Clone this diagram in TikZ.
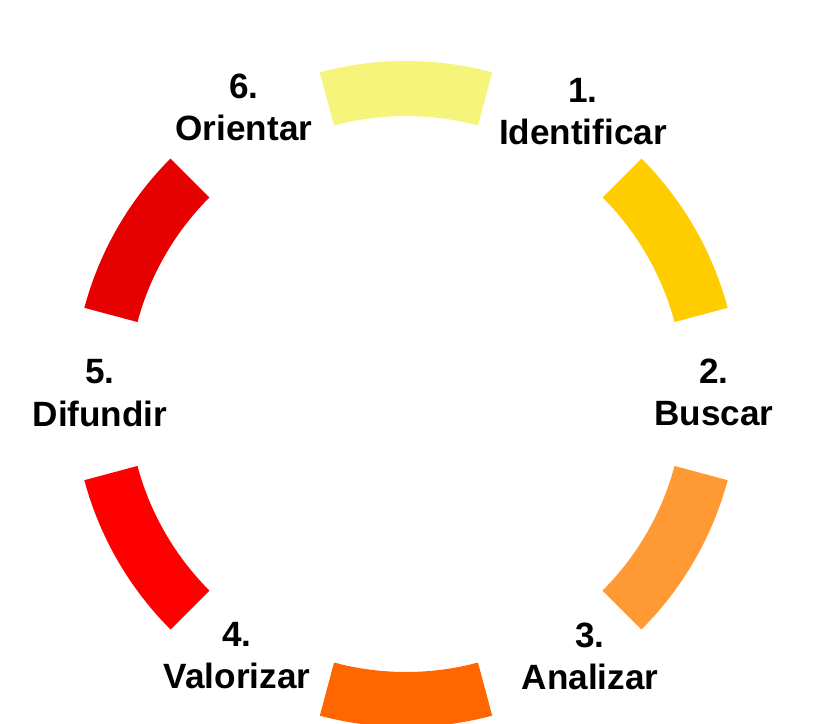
\documentclass[tikz,border=0pt]{standalone}
\usepackage{fontspec}
\setmainfont{Liberation Sans}

\definecolor{segA}{HTML}{F6F47A}
\definecolor{segB}{HTML}{FFCC00}
\definecolor{segC}{HTML}{FF9933}
\definecolor{segD}{HTML}{FF6600}
\definecolor{segE}{HTML}{FF0000}
\definecolor{segF}{HTML}{E60000}

\tikzset{
    stage/.style = {font = \fontsize{20}{24}\selectfont\bfseries, align = center, inner sep = 0pt}
}

\begin{document}
\begin{tikzpicture}
            \useasboundingbox (-8.12, -6.58) rectangle (8.14, 7.88);

            % Ring segments, clockwise from the top
            \foreach \mid/\col in {90/segA, 30/segB, -30/segC, -90/segD, -150/segE, 150/segF}
                \fill [\col] (\mid-15:6.66) arc [start angle = \mid-15, end angle = \mid+15, radius = 6.66]
                    -- (\mid+15:5.56) arc [start angle = \mid+15, end angle = \mid-15, radius = 5.56] -- cycle;

            % Stage names
            \node[stage] (identificar) at ( 3.54,  5.65) {1.\\Identificar};
            \node[stage] (buscar)      at ( 6.16,  0.03) {2.\\Buscar};
            \node[stage] (analizar)    at ( 3.68, -5.24) {3.\\Analizar};
            \node[stage] (valorizar)   at (-3.38, -5.23) {4.\\Valorizar};
            \node[stage] (difundir)    at (-6.12,  0.02) {5.\\Difundir};
            \node[stage] (orientar)    at (-3.24,  5.73) {6.\\Orientar};
        \end{tikzpicture}
\end{document}
